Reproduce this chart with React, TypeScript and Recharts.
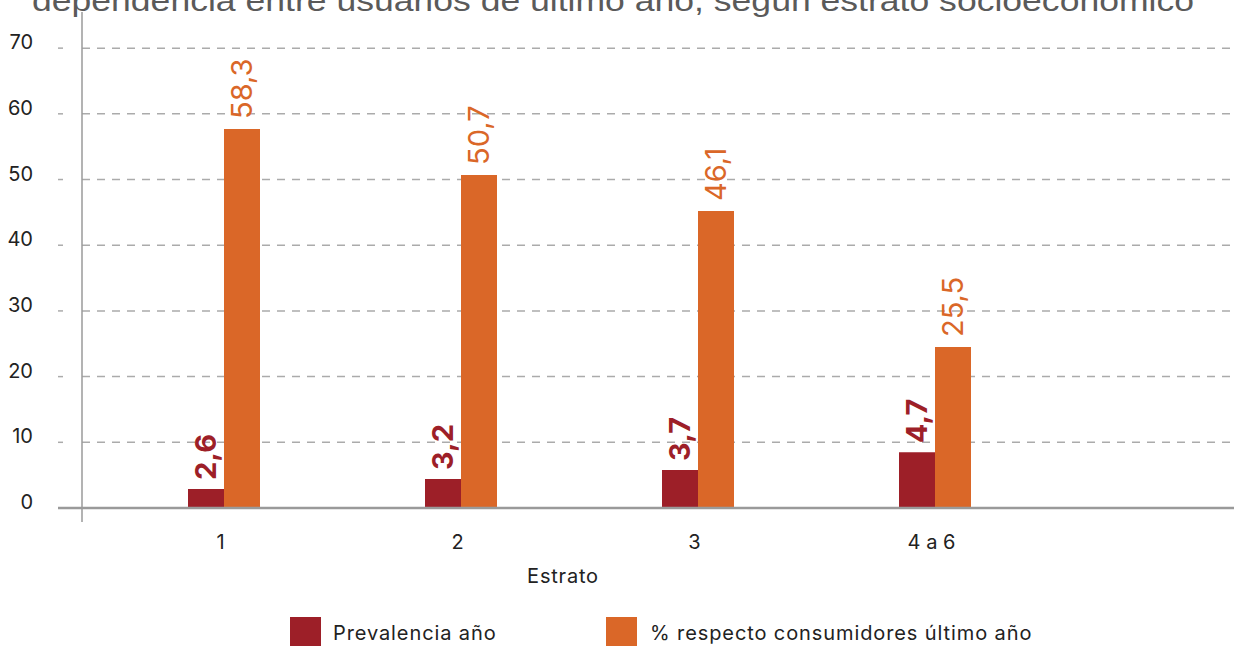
import { Bar, BarChart, CartesianGrid, LabelList, ReferenceLine, XAxis, YAxis } from "recharts"

const estratos = ["1", "2", "3", "4 a 6"]
const prevalencia = [2.9, 4.4, 5.8, 8.5]
const prevalenciaLabels = ["2,6", "3,2", "3,7", "4,7"]
const consumidores = [57.7, 50.7, 45.2, 24.5]
const consumidoresLabels = ["58,3", "50,7", "46,1", "25,5"]
const yTicks = [0, 10, 20, 30, 40, 50, 60, 70]
const gridValues = [10, 20, 30, 40, 50, 60, 70]

const RED = "#9d1f28"
const ORANGE = "#da6728"
const AXIS = "#9a9a9a"
const GRID = "#ababab"
const FONT = "Inter, 'Noto Sans', sans-serif"

const data = estratos.map((estrato, i) => ({
  estrato,
  prevalencia: prevalencia[i],
  consumidores: consumidores[i],
}))

function YTick({ x, y, payload }: any) {
  const isZero = payload.value === 0
  return (
    <g>
      <line
        x1={x - 24}
        x2={x}
        y1={y}
        y2={y}
        stroke={isZero ? AXIS : GRID}
        strokeWidth={isZero ? 2.5 : 1.5}
        strokeDasharray={isZero ? undefined : "5 20"}
      />
      <text
        x={x - 49}
        y={y - 6}
        textAnchor="end"
        dominantBaseline="central"
        fontFamily={FONT}
        fontSize={20}
        fill="#222"
      >
        {payload.value}
      </text>
    </g>
  )
}

function XTick({ x, y, payload }: any) {
  return (
    <text
      x={x - 3}
      y={y + 20}
      textAnchor="middle"
      dominantBaseline="central"
      fontFamily={FONT}
      fontSize={20}
      fill="#222"
    >
      {payload.value}
    </text>
  )
}

function makeLabel(color: string, weight: number, labels: string[], gap: number) {
  return function RotatedLabel(props: any) {
    const { x, y, width, index } = props
    const cx = x + width / 2
    const top = y - gap
    return (
      <text
        x={cx}
        y={top}
        transform={`rotate(-90 ${cx} ${top})`}
        textAnchor="start"
        dominantBaseline="central"
        fontFamily={FONT}
        fontSize={29}
        fontWeight={weight}
        fill={color}
      >
        {labels[index]}
      </text>
    )
  }
}

const PrevLabel = makeLabel(RED, 700, prevalenciaLabels, 9)
const ConsLabel = makeLabel(ORANGE, 400, consumidoresLabels, 10)

export default function App() {
  return (
    <div
      style={{
        position: "absolute",
        left: 0,
        top: 0,
        width: 1234,
        height: 646,
        overflow: "hidden",
        background: "#fff",
        fontFamily: FONT,
      }}
    >
      <svg width={1234} height={40} style={{ position: "absolute", left: 0, top: 0 }}>
        <text
          x={32}
          y={11}
          fontFamily="'Liberation Sans', Arial, sans-serif"
          fontSize={30}
          fill="#5a5a5a"
          textLength={1162}
          lengthAdjust="spacingAndGlyphs"
        >
          dependencia entre usuarios de último año, según estrato socioeconómico
        </text>
      </svg>

      <BarChart
        width={1234}
        height={646}
        data={data}
        margin={{ top: 12, right: 0, left: 0, bottom: 0 }}
        barSize={36}
        barGap={0}
        style={{ position: "absolute", left: 0, top: 0 }}
      >
        <CartesianGrid
          vertical={false}
          horizontalValues={gridValues}
          stroke={GRID}
          strokeWidth={1.5}
          strokeDasharray="8 7"
        />
        <XAxis
          dataKey="estrato"
          height={124}
          axisLine={false}
          tickLine={false}
          tickSize={0}
          tickMargin={0}
          padding={{ left: 23, right: 181 }}
          tick={<XTick />}
        />
        <YAxis
          width={82}
          domain={[-2.13, 75.5]}
          ticks={yTicks}
          allowDataOverflow
          axisLine={{ stroke: AXIS, strokeWidth: 1.5 }}
          tickLine={false}
          tickSize={0}
          tickMargin={0}
          tick={<YTick />}
        />
        <Bar dataKey="prevalencia" fill={RED} isAnimationActive={false}>
          <LabelList dataKey="prevalencia" content={<PrevLabel />} />
        </Bar>
        <Bar dataKey="consumidores" fill={ORANGE} isAnimationActive={false}>
          <LabelList dataKey="consumidores" content={<ConsLabel />} />
        </Bar>
        <ReferenceLine y={0} stroke={AXIS} strokeWidth={2.5} />
      </BarChart>

      <div
        style={{
          position: "absolute",
          left: 0,
          width: 1126,
          top: 565,
          textAlign: "center",
          fontSize: 20,
          letterSpacing: 0.8,
          color: "#222",
          lineHeight: "22px",
        }}
      >
        Estrato
      </div>

      <div style={{ position: "absolute", left: 290, top: 617, display: "flex", alignItems: "center" }}>
        <div style={{ width: 31, height: 31, background: RED }} />
        <span style={{ marginLeft: 12, fontSize: 20, letterSpacing: 0.9, color: "#222" }}>
          Prevalencia año
        </span>
      </div>
      <div style={{ position: "absolute", left: 606, top: 617, display: "flex", alignItems: "center" }}>
        <div style={{ width: 31, height: 31, background: ORANGE }} />
        <span style={{ marginLeft: 13, fontSize: 20, letterSpacing: 0.9, color: "#222" }}>
          % respecto consumidores último año
        </span>
      </div>
    </div>
  )
}
